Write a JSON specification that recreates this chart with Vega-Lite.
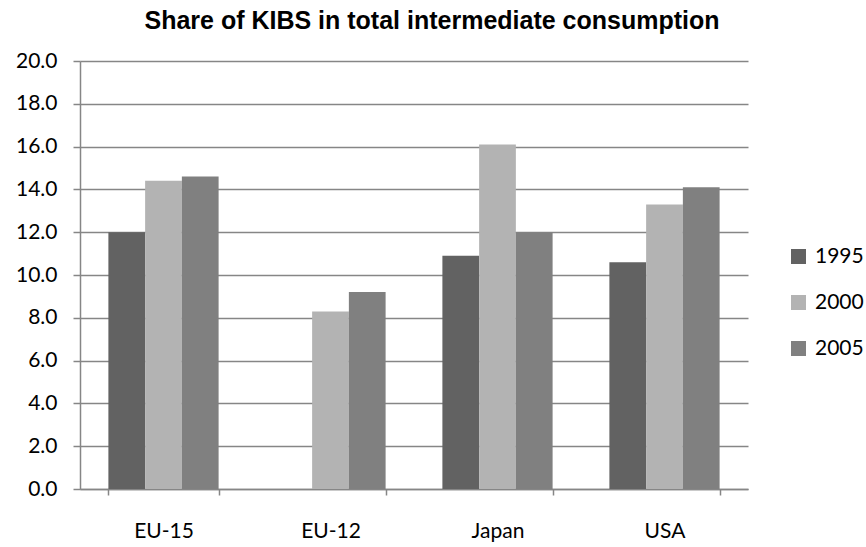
{
  "$schema": "https://vega.github.io/schema/vega-lite/v6.json",
  "autosize": {"type": "none"},
  "width": 668,
  "height": 428,
  "padding": {"left": 80, "top": 61, "right": 118, "bottom": 58},
  "background": "white",
  "title": {
    "text": "Share of KIBS in total intermediate consumption",
    "font": "Liberation Sans",
    "fontSize": 25,
    "fontWeight": "bold",
    "color": "#000000",
    "anchor": "middle",
    "baseline": "alphabetic",
    "dx": 18,
    "offset": -4
  },
  "data": {
    "values": [
      {"region": "EU-15", "year": "1995", "value": 12.0},
      {"region": "EU-15", "year": "2000", "value": 14.4},
      {"region": "EU-15", "year": "2005", "value": 14.6},
      {"region": "EU-12", "year": "2000", "value": 8.3},
      {"region": "EU-12", "year": "2005", "value": 9.2},
      {"region": "Japan", "year": "1995", "value": 10.9},
      {"region": "Japan", "year": "2000", "value": 16.1},
      {"region": "Japan", "year": "2005", "value": 12.0},
      {"region": "USA", "year": "1995", "value": 10.6},
      {"region": "USA", "year": "2000", "value": 13.3},
      {"region": "USA", "year": "2005", "value": 14.1}
    ]
  },
  "mark": {"type": "bar"},
  "encoding": {
    "x": {
      "field": "region",
      "type": "nominal",
      "sort": ["EU-15", "EU-12", "Japan", "USA"],
      "scale": {"paddingInner": 0.34, "paddingOuter": 0.17},
      "axis": {
        "title": null,
        "labelAngle": 0,
        "labelFont": "Lato",
        "labelFontSize": 21,
        "labelColor": "#000000",
        "labelPadding": 25,
        "domainColor": "#868686",
        "domainWidth": 1.5,
        "tickColor": "#868686",
        "tickWidth": 1.5,
        "tickSize": 6,
        "tickBand": "extent",
        "grid": false
      }
    },
    "xOffset": {"field": "year", "type": "nominal", "sort": ["1995", "2000", "2005"]},
    "y": {
      "field": "value",
      "type": "quantitative",
      "scale": {"domain": [0, 20], "nice": false},
      "axis": {
        "title": null,
        "values": [0, 2, 4, 6, 8, 10, 12, 14, 16, 18, 20],
        "format": ".1f",
        "labelFont": "Lato",
        "labelFontSize": 21,
        "labelColor": "#000000",
        "labelPadding": 16,
        "domainColor": "#868686",
        "domainWidth": 1.5,
        "tickColor": "#868686",
        "tickWidth": 1.5,
        "tickSize": 7,
        "grid": true,
        "gridColor": "#868686",
        "gridWidth": 1.5
      }
    },
    "color": {
      "field": "year",
      "type": "nominal",
      "scale": {"domain": ["1995", "2000", "2005"], "range": ["#626262", "#b3b3b3", "#808080"]},
      "legend": {
        "title": null,
        "orient": "none",
        "legendX": 708,
        "legendY": 185,
        "symbolType": "square",
        "symbolSize": 225,
        "symbolStrokeWidth": 0,
        "labelFont": "Lato",
        "labelFontSize": 21,
        "labelColor": "#000000",
        "rowPadding": 24,
        "labelOffset": 6
      }
    }
  },
  "config": {"view": {"stroke": null}}
}
